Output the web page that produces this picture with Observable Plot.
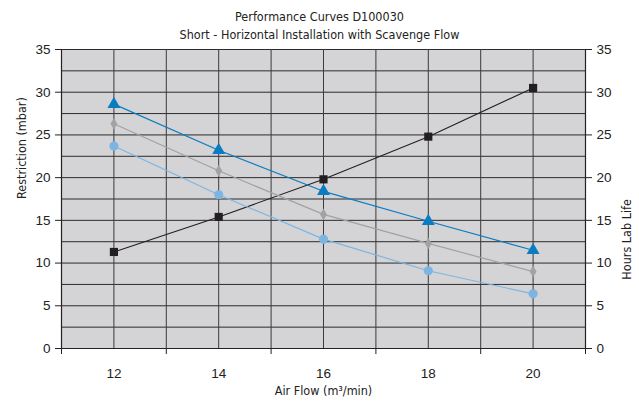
<!DOCTYPE html>
<html>
<head>
<meta charset="utf-8">
<script src="https://cdn.jsdelivr.net/npm/d3@7"></script>
<script src="https://cdn.jsdelivr.net/npm/@observablehq/plot@0.6"></script>
<style>
  html, body { margin: 0; padding: 0; background: #fff; }
  #wrap { width: 639px; height: 401px; position: relative; }
  #title { height: 40px; text-align: center; font-family: "DejaVu Sans Condensed", sans-serif; font-size: 12.5px; color: #222; line-height: 18px; padding-top: 8px; box-sizing: border-box; }
</style>
</head>
<body>
<div id="wrap">
  <div id="title"><div>Performance Curves D100030</div><div>Short - Horizontal Installation with Scavenge Flow</div></div>
  <div id="chart"></div>
</div>
<script>
const airFlow = [12, 14, 16, 18, 20];
const hoursLabLife = [11.3, 15.4, 19.8, 24.8, 30.5];
const restrictionTriangle = [28.6, 23.2, 18.4, 14.9, 11.5];
const restrictionDiamond = [26.3, 20.8, 15.7, 12.3, 9.0];
const restrictionCircle = [23.7, 18.0, 12.8, 9.1, 6.4];
const yTicks = [0, 5, 10, 15, 20, 25, 30, 35];
const yGrid = [0, 2.5, 5, 7.5, 10, 12.5, 15, 17.5, 20, 22.5, 25, 27.5, 30, 32.5, 35];
const xBoundaries = [11, 13, 15, 17, 19, 21];
const xGrid = [11, 12, 13, 14, 15, 16, 17, 18, 19, 20, 21];

const series = [
  {name: "Hours Lab Life", values: hoursLabLife, color: "#231f20", symbol: "square", r: 4.6, sw: 1.1},
  {name: "Restriction A", values: restrictionTriangle, color: "#0a7cc1", symbol: "triangle", r: 4.8, sw: 1.2},
  {name: "Restriction B", values: restrictionDiamond, color: "#a2a2a4", symbol: "diamond", r: 3.6, sw: 1.2},
  {name: "Restriction C", values: restrictionCircle, color: "#7db5e2", symbol: "circle", r: 4.6, sw: 1.2}
];
const marks = [];
for (const s of series) {
  const data = airFlow.map((x, i) => ({x, y: s.values[i]}));
  marks.push(Plot.line(data, {x: "x", y: "y", stroke: s.color, strokeWidth: s.sw}));
  marks.push(Plot.dot(data, {x: "x", y: "y", fill: s.color, symbol: s.symbol, r: s.r, stroke: "none"}));
}

const condensed = "DejaVu Sans Condensed, sans-serif";
const tickFont = "Liberation Sans, Arial, sans-serif";

const chart = Plot.plot({
  width: 639,
  height: 361,
  marginLeft: 61,
  marginRight: 54,
  marginTop: 9,
  marginBottom: 53,
  style: {fontFamily: tickFont, fontSize: "13px", color: "#222", background: "transparent"},
  x: {domain: [11, 21], axis: null},
  y: {domain: [0, 35], axis: null},
  marks: [
    Plot.frame({fill: "#d4d4d6", stroke: "none"}),
    Plot.ruleY(yGrid, {stroke: "#2b2b2b", strokeWidth: 1}),
    Plot.ruleX(xGrid, {stroke: "#3a3a3a", strokeWidth: 1}),
    Plot.axisY({anchor: "left", ticks: yTicks, tickSize: 6, tickPadding: 5, label: null, stroke: "#222", fontFamily: tickFont, fontSize: 13.5}),
    Plot.axisY({anchor: "right", ticks: yTicks, tickSize: 6, tickPadding: 5, label: null, stroke: "#222", fontFamily: tickFont, fontSize: 13.5}),
    Plot.axisX({anchor: "bottom", ticks: airFlow, tickSize: 0, tickPadding: 20, label: null, fontFamily: tickFont, fontSize: 13.5}),
    Plot.axisX({anchor: "bottom", ticks: xBoundaries, tickSize: 6, tickFormat: () => "", label: null, stroke: "#222"}),
    Plot.ruleY([0], {stroke: "#222", strokeWidth: 1.2}),
    Plot.ruleX([11, 21], {stroke: "#222", strokeWidth: 1.2}),
    ...marks,
    Plot.text(["Restriction (mbar)"], {frameAnchor: "left", dx: -40, rotate: -90, fontFamily: condensed, fontSize: 12.5, fill: "#222"}),
    Plot.text(["Hours Lab Life"], {frameAnchor: "right", dx: 41, rotate: -90, fontFamily: condensed, fontSize: 12.5, fill: "#222"}),
    Plot.text(["Air Flow (m³/min)"], {frameAnchor: "bottom", dy: 46, fontFamily: condensed, fontSize: 12.5, fill: "#222"})
  ]
});
document.getElementById("chart").appendChild(chart);
</script>
</body>
</html>
